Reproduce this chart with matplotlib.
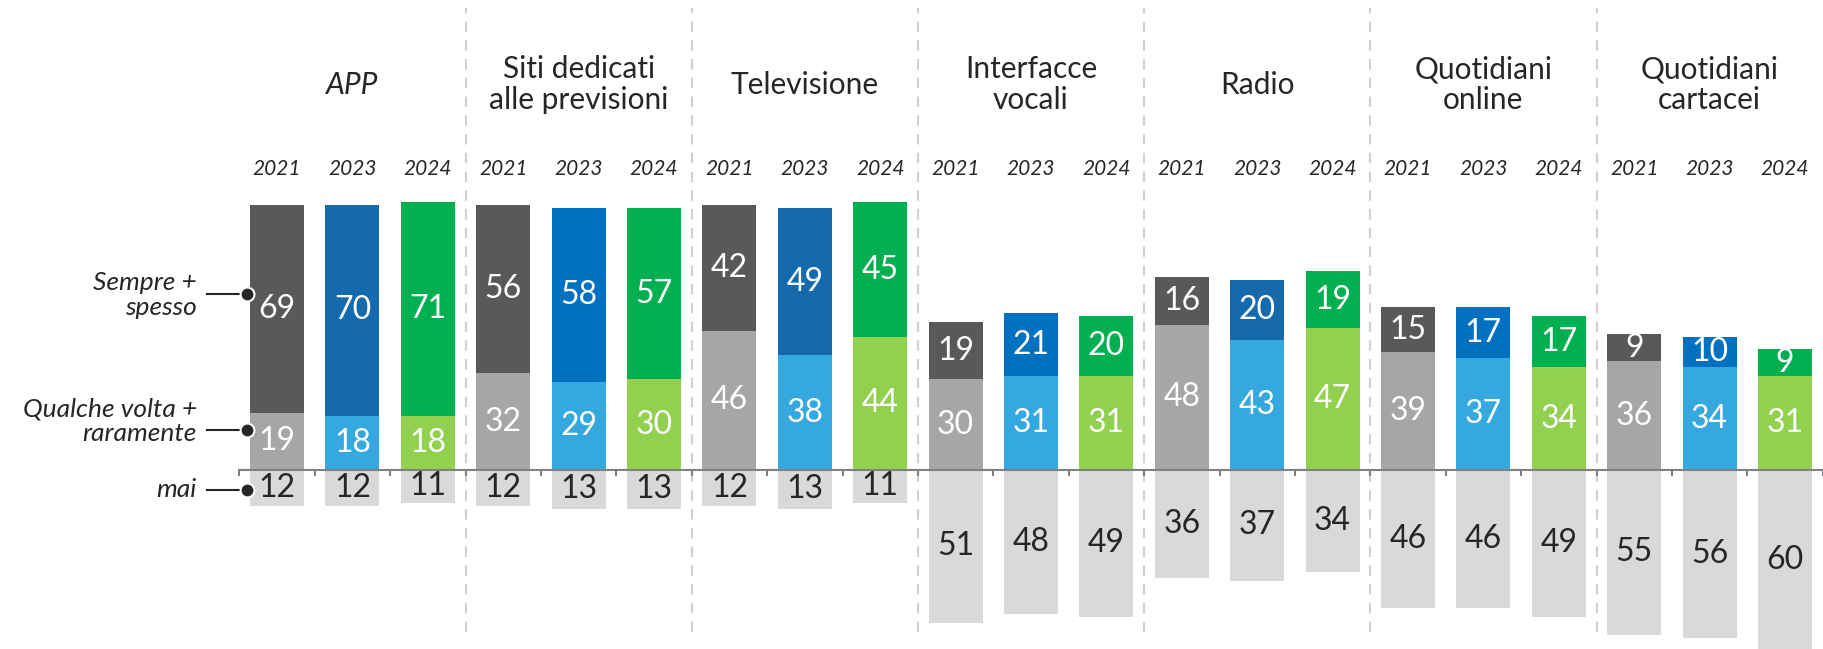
import matplotlib.pyplot as plt
import numpy as np

# dati: percentuali per canale e anno
canali = ['APP', 'Siti dedicati\nalle previsioni', 'Televisione', 'Interfacce\nvocali',
          'Radio', 'Quotidiani\nonline', 'Quotidiani\ncartacei']
anni = ['2021', '2023', '2024']

sempre = [69, 70, 71, 56, 58, 57, 42, 49, 45, 19, 21, 20, 16, 20, 19, 15, 17, 17, 9, 10, 9]
qualche = [19, 18, 18, 32, 29, 30, 46, 38, 44, 30, 31, 31, 48, 43, 47, 39, 37, 34, 36, 34, 31]
mai = [12, 12, 11, 12, 13, 13, 12, 13, 11, 51, 48, 49, 36, 37, 34, 46, 46, 49, 55, 56, 60]

# colori (top, bottom) per anno; il blu 2023 cambia leggermente fra i canali
col_top = {'2021': '#595959', '2024': '#00B050'}
col_bot = {'2021': '#A6A6A6', '2023': '#35A8E0', '2024': '#92D050'}
blu_2023 = ['#1569AD', '#0070C0', '#1569AD', '#0070C0', '#1569AD', '#0070C0', '#0070C0']
col_mai = '#D9D9D9'

FONT = ['Lato', 'DejaVu Sans']
plt.rcParams['font.family'] = FONT

fig = plt.figure(figsize=(18.23, 6.49), dpi=100)
ax = fig.add_axes([0, 0, 1, 1])
ax.set_xlim(-3.674, 20.504)
ax.set_ylim(-59.6, 156.1)
ax.axis('off')

w = 0.716
x = np.arange(len(sempre))
tops, bots = [], []
for i in range(len(sempre)):
    g, k = divmod(i, 3)
    a = anni[k]
    tops.append(blu_2023[g] if a == '2023' else col_top[a])
    bots.append(col_bot[a])

ax.bar(x, qualche, width=w, color=bots, zorder=2)
ax.bar(x, sempre, width=w, bottom=qualche, color=tops, zorder=2)
ax.bar(x, [-m for m in mai], width=w, color=col_mai, zorder=2)

for i in range(len(sempre)):
    ax.text(x[i], qualche[i] / 2, str(qualche[i]), ha='center', va='center',
            color='white', fontsize=23, zorder=3)
    ax.text(x[i], qualche[i] + sempre[i] / 2, str(sempre[i]), ha='center', va='center',
            color='white', fontsize=23, zorder=3)
    ax.text(x[i], -mai[i] / 2, str(mai[i]), ha='center', va='center',
            color='#262626', fontsize=23, zorder=3)
    ax.text(x[i], 100, anni[i % 3], ha='center', va='center', style='italic',
            color='#262626', fontsize=15)

# asse orizzontale con tacche
ax.plot([-0.5, 20.6], [0, 0], color='#808080', lw=1.5, zorder=4, clip_on=False)
for t in np.arange(-0.5, 21, 1.0):
    ax.plot([t, t], [0, -1.8], color='#808080', lw=1.5, zorder=4)

# separatori tratteggiati fra i gruppi
for g in range(6):
    xs = 3 * g + 2.5
    ax.plot([xs, xs], [-53.8, 153.5], color='#D0D0D0', lw=1.5, ls=(0, (5, 4)), zorder=1)

# nomi dei canali
for g, c in enumerate(canali):
    ax.text(3 * g + 1, 128, c, ha='center', va='center', color='#262626', fontsize=21.5,
            style='italic' if c == 'APP' else 'normal', linespacing=1.1)

# etichette a sinistra con pallino
leg = [('Sempre +\nspesso', 58.1, 58.5), ('Qualche volta +\nraramente', 16.0, 13.3), ('mai', -6.6, -6.6)]
for txt, yt, yd in leg:
    ax.text(-1.06, yt, txt, ha='right', va='center', style='italic', color='#262626',
            fontsize=19, linespacing=1.1)
    ax.plot([-0.93, -0.45], [yd, yd], color='#262626', lw=1.5, zorder=5)
    ax.plot(-0.40, yd, 'o', ms=10, mfc='#262626', mec='white', mew=1.5, zorder=6)

fig.savefig('out.png', dpi=100)
